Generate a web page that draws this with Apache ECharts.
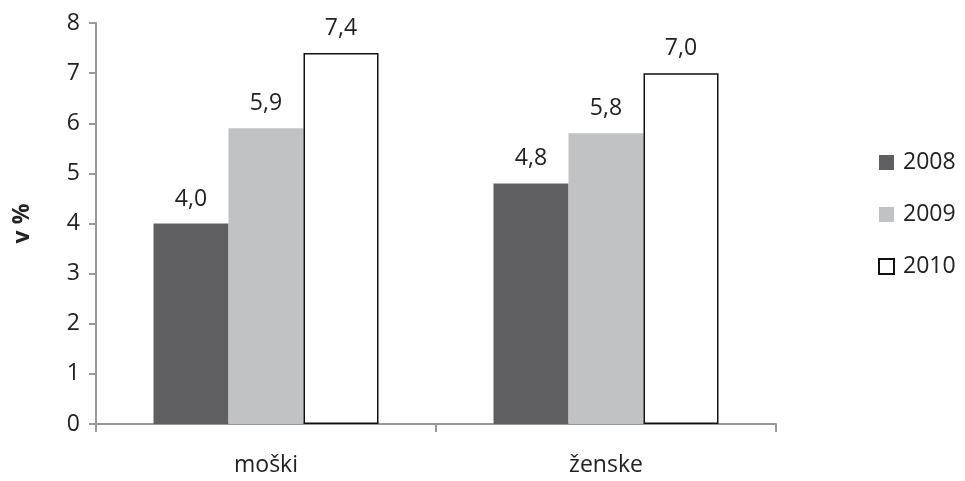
<!DOCTYPE html>
<html><head><meta charset="utf-8">
<script src="https://cdn.jsdelivr.net/npm/echarts@6/dist/echarts.min.js"></script>
<style>html,body{margin:0;padding:0;background:#fff}#c{width:965px;height:481px}</style>
</head><body><div id="c"></div>
<script>
var categories = ['moški', 'ženske'];
var years = ['2008', '2009', '2010'];
var v2008 = [4.0, 4.8];
var v2009 = [5.9, 5.8];
var v2010 = [7.4, 7.0];
var yTicks = [0, 1, 2, 3, 4, 5, 6, 7, 8];

var FONT = '"Open Sans", Lato, sans-serif';
var FS = 23;
var chart = echarts.init(document.getElementById('c'));
function fmt(p){ return p.value.toFixed(1).replace('.', ','); }
var lbl = {show:true, position:'top', distance:13, formatter:fmt, color:'#222', fontSize:FS, fontFamily:FONT};
chart.setOption({
  animation:false,
  textStyle:{fontFamily:FONT},
  grid:{left:96, right:189, top:23, bottom:57},
  legend:{
    orient:'vertical', left:873, top:146, itemWidth:15, itemHeight:15, itemGap:29,
    icon:'rect',
    textStyle:{fontSize:FS, color:'#222', fontFamily:FONT, padding:[0,0,0,4]},
    data:years
  },
  xAxis:{
    type:'category', data:categories,
    axisLine:{lineStyle:{color:'#999', width:2}},
    axisTick:{show:true, length:8, lineStyle:{color:'#999', width:2}},
    axisLabel:{fontSize:FS, color:'#222', margin:30, fontFamily:FONT}
  },
  yAxis:{
    type:'value', min:0, max:yTicks[yTicks.length-1], interval:1,
    name:'v %', nameLocation:'middle', nameGap:62, nameRotate:90,
    nameTextStyle:{fontSize:FS, fontWeight:'bold', color:'#222', fontFamily:FONT},
    axisLine:{show:true, lineStyle:{color:'#999', width:2}},
    axisTick:{show:true, length:7, lineStyle:{color:'#999', width:2}},
    splitLine:{show:false},
    axisLabel:{fontSize:FS, color:'#222', margin:16, fontFamily:FONT}
  },
  series:[
    {name:years[0], type:'bar', data:v2008, barWidth:75, barGap:'0%', barCategoryGap:'33.8%',
     itemStyle:{color:'#5f5f61'}, label:lbl},
    {name:years[1], type:'bar', data:v2009, barWidth:75, barGap:'0%',
     itemStyle:{color:'#c1c2c4'}, label:lbl},
    {name:years[2], type:'bar', data:v2010, barWidth:75, barGap:'0%',
     itemStyle:{color:'#ffffff', borderColor:'#111', borderWidth:1.5}, label:lbl}
  ]
});
</script></body></html>
